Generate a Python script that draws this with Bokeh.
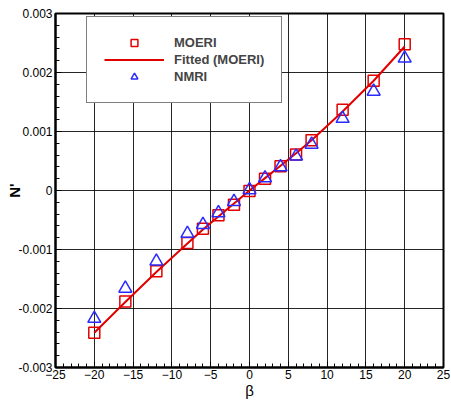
from bokeh.plotting import figure
from bokeh.models import FixedTicker, CustomJSTickFormatter, Legend, LegendItem, Range1d
from bokeh.embed import file_html
from bokeh.resources import INLINE

beta = [-20, -16, -12, -8, -6, -4, -2, 0, 2, 4, 6, 8, 12, 16, 20]
moeri = [-0.00241, -0.00188, -0.00137, -0.00089, -0.00065, -0.00042, -0.00024, -0.00001,
         0.00020, 0.00041, 0.00061, 0.00085, 0.00137, 0.00186, 0.00248]
fitted = [-0.00241, -0.00189, -0.00138, -0.00090, -0.00066, -0.00044, -0.00022, 0.0,
          0.00021, 0.00042, 0.00063, 0.00085, 0.00134, 0.00186, 0.00244]
nmri = [-0.00217, -0.00166, -0.00120, -0.00073, -0.00058, -0.00038, -0.00019, 0.00001,
        0.00021, 0.00040, 0.00058, 0.00078, 0.00122, 0.00168, 0.00224]

x_ticks = [-25, -20, -15, -10, -5, 0, 5, 10, 15, 20, 25]
y_ticks = [-0.003, -0.002, -0.001, 0.0, 0.001, 0.002, 0.003]

RED = "#e00000"
BLUE = "#2a2aff"
FONT = "Liberation Sans"

p = figure(width=451, height=401, output_backend="svg", toolbar_location=None,
           x_range=Range1d(-25, 25), y_range=Range1d(-0.003, 0.003),
           min_border_left=55, min_border_right=8, min_border_top=13, min_border_bottom=34)

p.outline_line_color = "black"
p.outline_line_width = 2

p.xaxis.ticker = FixedTicker(ticks=x_ticks, minor_ticks=list(range(-25, 26)))
p.yaxis.ticker = FixedTicker(ticks=y_ticks, minor_ticks=[round(-0.003 + 0.0002 * i, 5) for i in range(31)])
p.yaxis.formatter = CustomJSTickFormatter(code="return Math.abs(tick) < 1e-9 ? '0' : tick.toFixed(3);")

for ax in (p.xaxis[0], p.yaxis[0]):
    ax.axis_line_width = 2
    ax.axis_line_color = "black"
    ax.major_tick_in = 6
    ax.major_tick_out = 0
    ax.minor_tick_in = 4
    ax.minor_tick_out = 0
    ax.major_tick_line_color = "black"
    ax.minor_tick_line_color = "black"
    ax.major_label_text_font = FONT
    ax.major_label_text_font_size = "12px"
    ax.major_label_text_color = "black"
    ax.axis_label_text_font = FONT
    ax.axis_label_text_color = "black"

p.xaxis.axis_label = "β"
p.xaxis.axis_label_text_font_style = "normal"
p.xaxis.axis_label_text_font_size = "15px"
p.xaxis.axis_label_standoff = 0
p.xaxis.major_label_standoff = 2
p.yaxis.major_label_standoff = 3
p.yaxis.axis_label = "N'"
p.yaxis.axis_label_text_font_style = "bold"
p.yaxis.axis_label_text_font_size = "15px"
p.yaxis.axis_label_standoff = -8

p.grid.grid_line_color = "black"
p.grid.grid_line_width = 1
p.grid.grid_line_alpha = 0.85

r_line = p.line(beta, fitted, line_color=RED, line_width=2)
r_sq = p.scatter(beta, moeri, marker="square", size=11, line_color=RED, line_width=1.5, fill_alpha=0)
r_tri = p.scatter(beta, nmri, marker="triangle", size=13, line_color=BLUE, line_width=1.5, fill_alpha=0)

legend = Legend(items=[
    LegendItem(label="MOERI", renderers=[r_sq]),
    LegendItem(label="Fitted (MOERI)", renderers=[r_line]),
    LegendItem(label="NMRI", renderers=[r_tri]),
], location=(31, 264))
legend.border_line_color = "black"
legend.border_line_width = 1.5
legend.background_fill_color = "white"
legend.background_fill_alpha = 1
legend.label_text_font = FONT
legend.label_text_font_style = "bold"
legend.label_text_font_size = "13px"
legend.label_height = 16
legend.glyph_height = 17
legend.glyph_width = 60
legend.spacing = 0
legend.padding = 17
legend.margin = 0
legend.label_standoff = 10
p.add_layout(legend, "center")

open("out.html", "w").write(file_html(p, INLINE))
